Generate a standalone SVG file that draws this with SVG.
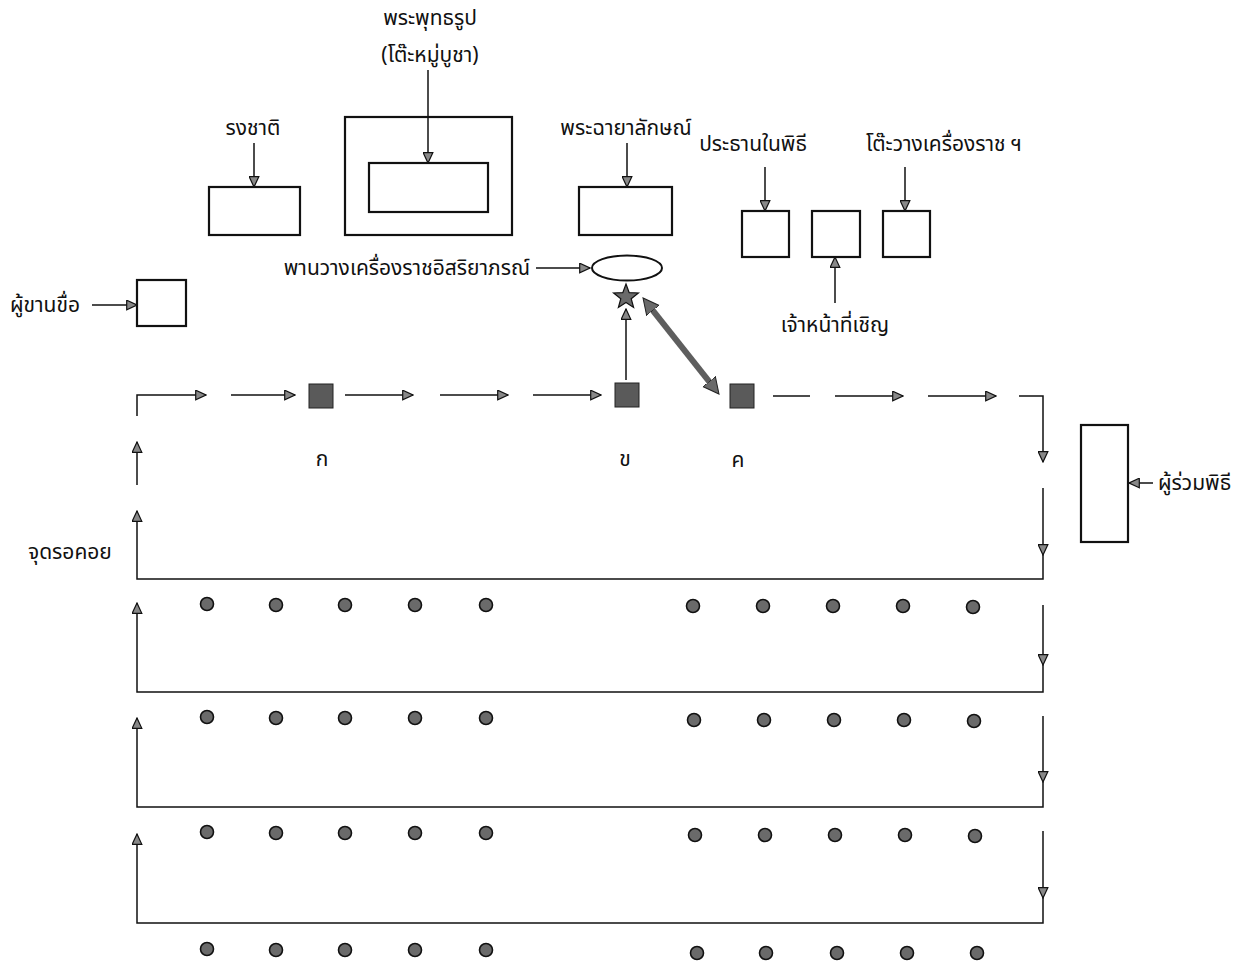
<svg xmlns="http://www.w3.org/2000/svg" width="1253" height="963" viewBox="0 0 1253 963">
<style>
text{font-family:"Noto Sans Thai","Noto Sans","DejaVu Sans",sans-serif;font-size:21px;fill:#111}
.box{fill:#fff;stroke:#111;stroke-width:2.2}
.ln{fill:none;stroke:#111;stroke-width:1.5}
.ar{fill:none;stroke:#111;stroke-width:1.5;marker-end:url(#ah)}
.sq{fill:#5a5a5a;stroke:#222;stroke-width:1}
.dot{fill:#6a6a6a;stroke:#111;stroke-width:1.6}
</style>
<defs>
<marker id="ah" markerUnits="userSpaceOnUse" markerWidth="12" markerHeight="11" refX="11" refY="5.5" orient="auto">
<path d="M0.7,0.7 L11,5.5 L0.7,10.3 Z" fill="#888" stroke="#111" stroke-width="1.2"/>
</marker>
<marker id="big" markerUnits="userSpaceOnUse" markerWidth="18" markerHeight="18" refX="6" refY="9" orient="auto-start-reverse">
<path d="M0,1 L16,9 L0,17 Z" fill="#6a6a6a" stroke="#222" stroke-width="1"/>
</marker>
</defs>

<g id="flag"><rect class="box" x="209" y="187" width="91" height="48"/></g>
<g id="altar"><rect class="box" x="345" y="117" width="167" height="118"/><rect class="box" x="369" y="163" width="119" height="49"/></g>
<g id="portrait"><rect class="box" x="579" y="187" width="93" height="48"/></g>
<g id="tray"><ellipse cx="627" cy="268" rx="35" ry="12.5" fill="#fff" stroke="#111" stroke-width="2"/></g>
<g id="star"><path d="M626,284 L629.2,292.6 L638.4,293 L631.2,298.7 L633.6,307.5 L626,302.5 L618.4,307.5 L620.8,298.7 L613.6,293 L622.8,292.6 Z" fill="#6a6a6a" stroke="#111" stroke-width="1.2"/></g>
<g id="chair"><rect class="box" x="742" y="211" width="47" height="46"/></g>
<g id="officer"><rect class="box" x="812" y="211" width="48" height="46"/></g>
<g id="table"><rect class="box" x="883" y="211" width="47" height="46"/></g>
<g id="caller"><rect class="box" x="137" y="280" width="49" height="46"/></g>
<g id="attendees"><rect class="box" x="1081" y="425" width="47" height="117"/></g>
<g id="pos-k"><rect class="sq" x="309" y="384" width="24" height="24"/></g>
<g id="pos-kh"><rect class="sq" x="615" y="383" width="24" height="24"/></g>
<g id="pos-kk"><rect class="sq" x="730" y="384" width="24" height="24"/></g>

<g id="seats">
<circle class="dot" cx="207" cy="604" r="6.5"/><circle class="dot" cx="276" cy="605" r="6.5"/><circle class="dot" cx="345" cy="605" r="6.5"/><circle class="dot" cx="415" cy="605" r="6.5"/><circle class="dot" cx="486" cy="605" r="6.5"/>
<circle class="dot" cx="693" cy="606" r="6.5"/><circle class="dot" cx="763" cy="606" r="6.5"/><circle class="dot" cx="833" cy="606" r="6.5"/><circle class="dot" cx="903" cy="606" r="6.5"/><circle class="dot" cx="973" cy="607" r="6.5"/>
<circle class="dot" cx="207" cy="717" r="6.5"/><circle class="dot" cx="276" cy="718" r="6.5"/><circle class="dot" cx="345" cy="718" r="6.5"/><circle class="dot" cx="415" cy="718" r="6.5"/><circle class="dot" cx="486" cy="718" r="6.5"/>
<circle class="dot" cx="694" cy="720" r="6.5"/><circle class="dot" cx="764" cy="720" r="6.5"/><circle class="dot" cx="834" cy="720" r="6.5"/><circle class="dot" cx="904" cy="720" r="6.5"/><circle class="dot" cx="974" cy="721" r="6.5"/>
<circle class="dot" cx="207" cy="832" r="6.5"/><circle class="dot" cx="276" cy="833" r="6.5"/><circle class="dot" cx="345" cy="833" r="6.5"/><circle class="dot" cx="415" cy="833" r="6.5"/><circle class="dot" cx="486" cy="833" r="6.5"/>
<circle class="dot" cx="695" cy="835" r="6.5"/><circle class="dot" cx="765" cy="835" r="6.5"/><circle class="dot" cx="835" cy="835" r="6.5"/><circle class="dot" cx="905" cy="835" r="6.5"/><circle class="dot" cx="975" cy="836" r="6.5"/>
<circle class="dot" cx="207" cy="949" r="6.5"/><circle class="dot" cx="276" cy="950" r="6.5"/><circle class="dot" cx="345" cy="950" r="6.5"/><circle class="dot" cx="415" cy="950" r="6.5"/><circle class="dot" cx="486" cy="950" r="6.5"/>
<circle class="dot" cx="697" cy="953" r="6.5"/><circle class="dot" cx="766" cy="953" r="6.5"/><circle class="dot" cx="837" cy="953" r="6.5"/><circle class="dot" cx="907" cy="953" r="6.5"/><circle class="dot" cx="977" cy="953" r="6.5"/>
</g>

<g id="connectors">
<line class="ar" x1="254" y1="143" x2="254" y2="187"/>
<line class="ar" x1="428" y1="70" x2="428" y2="163"/>
<line class="ar" x1="627" y1="143" x2="627" y2="187"/>
<line class="ar" x1="765" y1="167" x2="765" y2="211"/>
<line class="ar" x1="905" y1="167" x2="905" y2="211"/>
<line class="ar" x1="835" y1="303" x2="835" y2="257"/>
<line class="ar" x1="536" y1="268" x2="590" y2="268"/>
<line class="ar" x1="92" y1="305" x2="137" y2="305"/>
<line class="ar" x1="1153" y1="483" x2="1129" y2="483"/>
<line class="ar" x1="626" y1="380" x2="626" y2="309"/>
<line x1="649.2" y1="305.8" x2="712.8" y2="386.2" stroke="#5e5e5e" stroke-width="6" marker-start="url(#big)" marker-end="url(#big)"/>

<path class="ar" d="M137,416 V395 H206"/>
<line class="ar" x1="231" y1="395" x2="295" y2="395"/>
<line class="ar" x1="345" y1="395" x2="413" y2="395"/>
<line class="ar" x1="440" y1="395" x2="508" y2="395"/>
<line class="ar" x1="533" y1="395" x2="601" y2="395"/>
<line class="ln" x1="773" y1="396" x2="810" y2="396"/>
<line class="ar" x1="835" y1="396" x2="903" y2="396"/>
<line class="ar" x1="928" y1="396" x2="996" y2="396"/>
<path class="ar" d="M1019,396 H1043 V462"/>
<line class="ar" x1="1043" y1="488" x2="1043" y2="555"/>
<path class="ln" d="M1043,555 V579 H137 V512"/>
<line class="ar" x1="137" y1="512" x2="137" y2="511"/>
<line class="ar" x1="137" y1="485" x2="137" y2="442"/>

<line class="ar" x1="1043" y1="605" x2="1043" y2="665"/>
<path class="ln" d="M1043,665 V692 H137 V604"/>
<line class="ar" x1="137" y1="605" x2="137" y2="603"/>

<line class="ar" x1="1043" y1="716" x2="1043" y2="782"/>
<path class="ln" d="M1043,782 V807 H137 V719"/>
<line class="ar" x1="137" y1="720" x2="137" y2="718"/>

<line class="ar" x1="1043" y1="831" x2="1043" y2="898"/>
<path class="ln" d="M1043,898 V923 H137 V835"/>
<line class="ar" x1="137" y1="836" x2="137" y2="834"/>
</g>

<g id="labels">
<text x="430" y="25" text-anchor="middle">พระพุทธรูป</text>
<text x="430" y="62" text-anchor="middle">(โต๊ะหมู่บูชา)</text>
<text x="253" y="135" text-anchor="middle">รงชาติ</text>
<text x="626" y="135" text-anchor="middle">พระฉายาลักษณ์</text>
<text x="753" y="151" text-anchor="middle">ประธานในพิธี</text>
<text x="944" y="151" text-anchor="middle">โต๊ะวางเครื่องราช ฯ</text>
<text x="530" y="275" text-anchor="end">พานวางเครื่องราชอิสริยาภรณ์</text>
<text x="10" y="312">ผู้ขานขื่อ</text>
<text x="835" y="332" text-anchor="middle">เจ้าหน้าที่เชิญ</text>
<text x="1158" y="490">ผู้ร่วมพิธี</text>
<text x="28" y="559">จุดรอคอย</text>
<text x="322" y="466" text-anchor="middle">ก</text>
<text x="625" y="466" text-anchor="middle">ข</text>
<text x="738" y="467" text-anchor="middle">ค</text>
</g>
</svg>
